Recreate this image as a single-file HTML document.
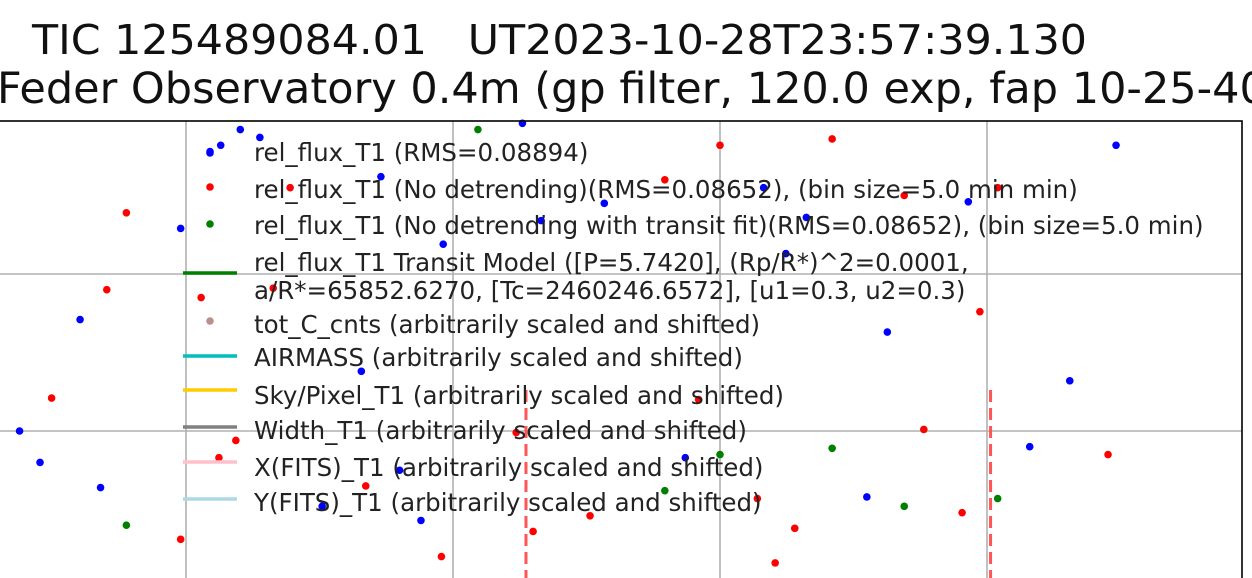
<!DOCTYPE html>
<html><head><meta charset="utf-8"><style>
body{margin:0;background:#fff;}
svg{display:block;font-family:"DejaVu Sans","Liberation Sans",sans-serif;}
</style></head><body>
<svg id="chart" width="1252" height="578" viewBox="0 0 1252 578" xmlns="http://www.w3.org/2000/svg">
<text x="32" y="54" font-size="41" fill="#111" textLength="1055" lengthAdjust="spacingAndGlyphs" style="white-space:pre" xml:space="preserve">TIC 125489084.01   UT2023-10-28T23:57:39.130</text>
<text x="-3" y="103" font-size="43" fill="#111">Feder Observatory 0.4m (gp filter, 120.0 exp, fap 10-25-40)</text>
<g id="grid"></g>
<g id="marks"></g>
<rect x="-5" y="121" width="1247" height="470" fill="none" stroke="#000" stroke-width="1.6"/>
<g id="legend"></g>
</svg>
<script>
// time in minutes relative to first gridline; flux in ppt relative to upper horizontal gridline
const gridX = [0, 30, 60, 90];
const gridY = [0, -10];
const transitLines = [38.2, 90.4];
const blueT = [2.7,3.9,6.1,8.3,-0.6,-11.9,-18.7,-16.4,-9.6,21.9,28.9,19.7,24.0,26.4,15.3,37.8,47.0,39.9,64.9,67.4,69.7,56.1,78.8,87.9,99.3,94.8,76.5,104.5];
const blueF = [7.8,8.2,9.2,8.7,2.9,-2.9,-10.0,-12.0,-13.6,6.2,1.9,-6.2,-12.5,-15.7,-14.8,9.6,4.5,3.4,5.5,1.3,3.6,-11.7,-3.7,4.6,-6.8,-11.0,-14.2,8.2];
const redT = [-6.7,-8.9,1.7,-15.1,5.6,3.7,-0.6,11.7,20.2,28.7,39.0,37.1,45.4,53.8,60.0,57.6,64.2,68.4,66.2,72.6,80.7,91.2,89.2,82.9,87.2,103.6,9.8];
const redF = [3.9,-1.0,-1.5,-7.9,-10.6,-11.7,-16.9,5.5,-13.5,-18.0,-16.4,-10.1,-15.4,6.0,8.2,-8.0,-14.3,-16.2,-18.4,8.6,5.0,5.5,-2.4,-9.9,-15.2,-11.5,-0.9];
const greenT = [32.8,-6.7,60.0,53.8,72.6,80.7,91.2];
const greenF = [9.2,-16.0,-11.5,-13.8,-11.1,-14.8,-14.3];

const NS='http://www.w3.org/2000/svg';
const xS = t => 186 + t*8.9;
const yS = f => 274 - f*15.7;
function mk(tag, attrs, parent){const e=document.createElementNS(NS,tag);for(const k in attrs)e.setAttribute(k,attrs[k]);parent.appendChild(e);return e;}
const grid=document.getElementById('grid'), marks=document.getElementById('marks'), leg=document.getElementById('legend');
gridX.forEach(t=>{const l=mk('line',{x1:xS(t),x2:xS(t),y1:121,y2:578,stroke:'#b0b0b0','stroke-width':1.6},grid);

});
gridY.forEach(f=>{const l=mk('line',{x1:0,x2:1242,y1:yS(f),y2:yS(f),stroke:'#b0b0b0','stroke-width':1.6},grid);

});
transitLines.forEach(t=>{const l=mk('line',{x1:xS(t),x2:xS(t),y1:390,y2:578,stroke:'#ff5555','stroke-width':3,'stroke-dasharray':'12,6'},marks);

});
function pts(T,F,c,name){T.forEach((t,i)=>{const p=mk('circle',{cx:xS(t),cy:yS(F[i]),r:3.8,fill:c},marks);

});}
pts(blueT,blueF,'#0000ff','rel-flux-point');
pts(redT,redF,'#ff0000','no-detrend-point');
pts(greenT,greenF,'#008000','transit-fit-point');

const legendRows=[
['dot','#0000ff',153,161,'rel_flux_T1 (RMS=0.08894)'],
['dot','#ff0000',187,198,'rel_flux_T1 (No detrending)(RMS=0.08652), (bin size=5.0 min min)'],
['dot','#008000',224,234,'rel_flux_T1 (No detrending with transit fit)(RMS=0.08652), (bin size=5.0 min)'],
['line','#008000',273,271,'rel_flux_T1 Transit Model ([P=5.7420], (Rp/R*)^2=0.0001,'],
['none','',0,299,'a/R*=65852.6270, [Tc=2460246.6572], [u1=0.3, u2=0.3)'],
['dot','#bc8f8f',321,333,'tot_C_cnts (arbitrarily scaled and shifted)'],
['line','#00bfbf',356,366,'AIRMASS (arbitrarily scaled and shifted)'],
['line','#ffcc00',390,404,'Sky/Pixel_T1 (arbitrarily scaled and shifted)'],
['line','#808080',427,439,'Width_T1 (arbitrarily scaled and shifted)'],
['line','#ffc0cb',462,476,'X(FITS)_T1 (arbitrarily scaled and shifted)'],
['line','#add8e6',499,511,'Y(FITS)_T1 (arbitrarily scaled and shifted)']];
legendRows.forEach(r=>{
 if(r[0]==='dot'){const d=mk('circle',{cx:210,cy:r[2],r:3.8,fill:r[1]},leg);
 
 }
 if(r[0]==='line'){const l=mk('line',{x1:183,x2:237,y1:r[2],y2:r[2],stroke:r[1],'stroke-width':3.5},leg);
 
 }
 const t=mk('text',{x:254,y:r[3],'font-size':24.5,fill:'#222'},leg);
 t.textContent=r[4];
 
 
});
</script>
</body></html>
